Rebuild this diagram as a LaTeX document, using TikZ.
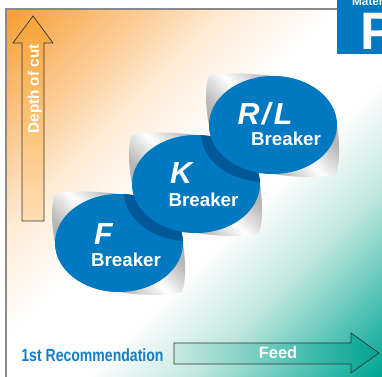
\documentclass[tikz,border=0pt]{standalone}
\usepackage{fontspec}
\setmainfont{Liberation Sans}
\newfontfamily\condfont{Liberation Sans}[FakeStretch=0.8]
\usepackage{xcolor}
\usepackage{tikz}
\usetikzlibrary{calc}
\definecolor{brkblue}{RGB}{0,121,193}
\definecolor{brkshadow}{RGB}{0,88,152}
\definecolor{recblue}{RGB}{22,126,196}
\definecolor{bgorange}{RGB}{246,160,52}
\definecolor{bgpeach}{RGB}{251,196,132}
\definecolor{bglight}{RGB}{255,236,214}
\definecolor{bgmint}{RGB}{192,231,223}
\definecolor{bgteal}{RGB}{0,166,148}
\definecolor{framegray}{RGB}{138,138,138}
\definecolor{depthtop}{RGB}{247,163,55}
\definecolor{depthbot}{RGB}{254,222,180}
\definecolor{feedleft}{RGB}{200,233,226}
\definecolor{feedright}{RGB}{0,163,143}
\definecolor{silverdark}{RGB}{140,140,140}
\definecolor{silvermid}{RGB}{185,185,185}
\pgfdeclarehorizontalshading{bgdiag}{100bp}{color(0bp)=(bgorange); color(15bp)=(bgorange); color(25.5bp)=(bgpeach); color(36bp)=(bglight); color(46.5bp)=(white); color(57bp)=(white); color(67.5bp)=(bgmint); color(85bp)=(bgteal); color(100bp)=(bgteal)}
\pgfdeclarehorizontalshading{silvershade}{100bp}{color(0bp)=(silverdark); color(38bp)=(silvermid); color(50bp)=(white); color(62bp)=(silvermid); color(100bp)=(silverdark)}

\begin{document}
\begin{tikzpicture}[x=0.03cm, y=-0.03cm,
        silver/.style={shading=silvershade, shading angle=45},
        letter/.style={text=white, inner sep=0pt, font=\bfseries\itshape\fontsize{26}{26}\selectfont},
        breaker/.style={text=white, inner sep=0pt, font=\bfseries\fontsize{16}{16}\selectfont},
        whitetxt/.style={text=white, inner sep=0pt, font=\bfseries\fontsize{#1}{#1}\selectfont}]
        \useasboundingbox (0, 0) rectangle (382, 377);
        \clip (0, 0) rectangle (382, 377);
        \coordinate (Fc) at (119, 243);
        \coordinate (Kc) at (196, 184);
        \coordinate (RLc) at (273, 125);
        \shade[shading=bgdiag, shading angle=-45] (6, 9) rectangle (382, 377);
        \draw[framegray, line width=1.5pt] (6, 377) -- (6, 9) -- (337, 9);
        \fill[brkblue] (337, 0) rectangle (382, 54);
        \node[whitetxt=10, anchor=base west] (mat) at (352, 6) {Material};
        \node[whitetxt=45, anchor=south west] (grp) at (360, 50) {P};
        \shade[top color=depthtop, bottom color=depthbot, draw=black!80, line width=0.6pt] (22, 221) -- (22, 43) -- (13, 43) -- (33, 16) -- (53, 43) -- (44, 43) -- (44, 221) -- cycle;
        \node[whitetxt=13, rotate=90] (depth) at (35, 89) {Depth of cut};
        \shade[left color=feedleft, right color=feedright, draw=black!80, line width=0.6pt] (174, 343) -- (351, 343) -- (351, 333) -- (379, 353) -- (351, 373) -- (351, 364) -- (174, 364) -- cycle;
        \node[whitetxt=14] (feed) at (278, 353) {Feed};
        \node[text=recblue, inner sep=0pt, font=\condfont\bfseries\fontsize{15}{15}\selectfont] (rec) at (92.5, 355.5) {1st Recommendation};
        \foreach \c in {Fc, Kc, RLc}
            \shade[silver] ($(\c)+(0, -49)$) arc[start angle=-90, end angle=0, x radius=64, y radius=49]
                .. controls ($(\c)+(67, 20)$) and ($(\c)+(67, 38)$) .. ($(\c)+(63, 49)$)
                .. controls ($(\c)+(50, 53)$) and ($(\c)+(25, 53)$) .. ($(\c)+(0, 49)$)
                arc[start angle=90, end angle=180, x radius=64, y radius=49]
                .. controls ($(\c)+(-68, -20)$) and ($(\c)+(-68, -40)$) .. ($(\c)+(-64, -49)$)
                .. controls ($(\c)+(-48, -53)$) and ($(\c)+(-25, -52)$) .. cycle;
        \fill[brkblue] (Fc) ellipse[x radius=64, y radius=49];
        \begin{scope}
            \clip (Fc) ellipse[x radius=64, y radius=49];
            \fill[brkshadow] ($(Kc)+(-8, 8)$) ellipse[x radius=64, y radius=49];
        \end{scope}
        \fill[brkblue] (Kc) ellipse[x radius=64, y radius=49];
        \begin{scope}
            \clip (Kc) ellipse[x radius=64, y radius=49];
            \fill[brkshadow] ($(RLc)+(-8, 8)$) ellipse[x radius=64, y radius=49];
        \end{scope}
        \fill[brkblue] (RLc) ellipse[x radius=64, y radius=49];
        \node[letter] (F) at ($(Fc)+(-15.5, -9)$) {F};
        \node[breaker] (Fb) at ($(Fc)+(7, 17)$) {Breaker};
        \node[letter] (K) at ($(Kc)+(-15, -10.5)$) {K};
        \node[breaker] (Kb) at ($(Kc)+(7.5, 15.5)$) {Breaker};
        \node[letter] (RL) at ($(RLc)+(-8, -11)$) {R\kern2pt/\kern3pt L};
        \node[breaker] (RLb) at ($(RLc)+(13, 14)$) {Breaker};
    \end{tikzpicture}
\end{document}
